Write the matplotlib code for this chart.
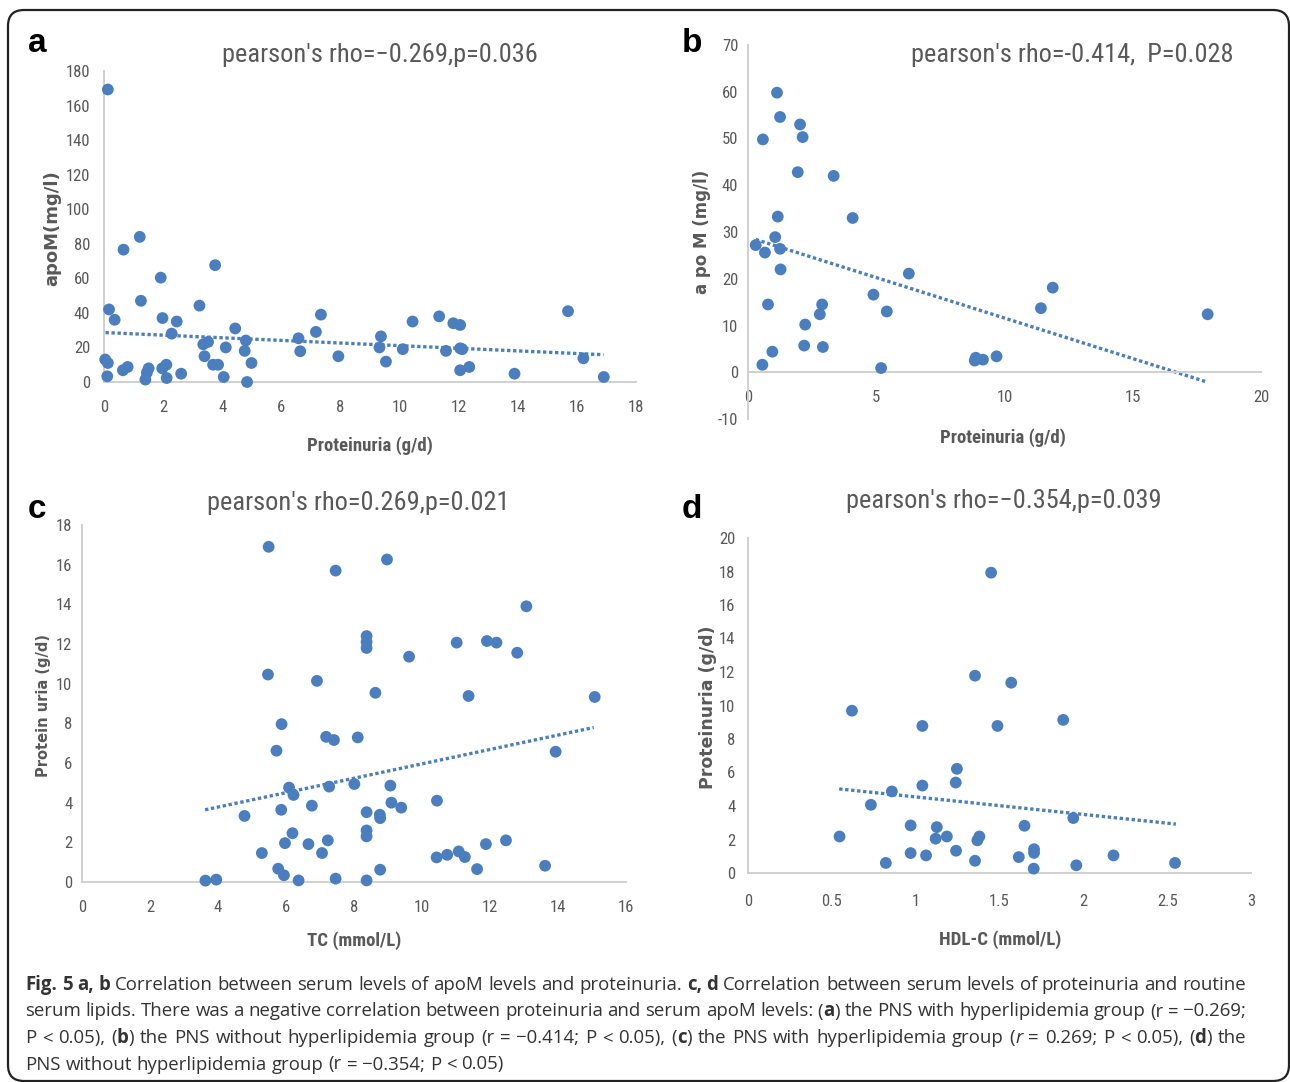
import matplotlib
matplotlib.use('Agg')
import matplotlib.pyplot as plt
from matplotlib import font_manager
from matplotlib.patches import FancyBboxPatch
from matplotlib.transforms import IdentityTransform

W, H = 1290, 1082

# ---- panel a: apoM vs proteinuria (with hyperlipidemia)
a_x = [0.13, 0.17, 0.36, 0.04, 0.13, 0.11, 0.66, 1.21, 1.25, 0.64, 0.80, 1.40, 1.45, 1.51,
       1.92, 1.98, 1.97, 2.11, 2.12, 2.29, 2.46, 2.61, 3.23, 3.36, 3.52, 3.40, 3.69, 3.86,
       3.76, 4.05, 4.12, 4.44, 4.80, 4.76, 4.84, 4.99, 6.58, 6.64, 7.17, 7.34, 7.93, 9.37,
       9.32, 9.54, 10.11, 10.44, 11.34, 11.57, 11.82, 12.05, 12.05, 12.12, 12.05, 12.36,
       13.89, 15.70, 16.22, 16.91]
a_y = [169.3, 42, 36, 13, 11, 3.3, 76.6, 84, 47, 6.8, 8.7, 1.4, 5.4, 7.9,
       60.4, 37, 7.9, 10, 2.3, 28, 35, 4.8, 44.2, 21.8, 23.2, 14.9, 10, 10,
       67.6, 2.9, 20, 31, 24, 18, 0, 11, 25.3, 17.8, 29, 39, 14.9, 26.4,
       20, 11.8, 19, 35, 38, 18, 34, 33, 19.5, 19, 6.8, 8.7,
       4.8, 41, 13.7, 2.9]
a_fit_x = [0.05, 16.9]
a_fit_y = [28.6, 15.8]

# ---- panel b: apoM vs proteinuria (without hyperlipidemia)
b_x = [1.13, 1.25, 0.58, 2.03, 2.13, 1.94, 3.34, 1.16, 4.08, 1.06, 0.30, 0.66, 1.25, 1.27,
       6.27, 4.89, 11.88, 0.78, 2.89, 2.80, 5.41, 11.42, 17.92, 2.23, 2.19, 2.92, 0.95,
       0.56, 5.19, 8.84, 8.88, 9.16, 9.69]
b_y = [59.8, 54.6, 49.8, 53, 50.3, 42.8, 42, 33.3, 33, 28.9, 27.2, 25.6, 26.4, 22,
       21.1, 16.6, 18.1, 14.5, 14.5, 12.4, 13.0, 13.7, 12.4, 10.2, 5.7, 5.4, 4.4,
       1.6, 0.9, 2.5, 3.1, 2.7, 3.4]
b_fit_x = [0.3, 17.9]
b_fit_y = [28.4, -2.1]

# ---- panel c: proteinuria vs TC
c_x = [5.49, 8.97, 7.46, 13.07, 8.37, 8.37, 8.37, 11.02, 11.91, 12.19, 12.80, 9.62, 5.47,
       6.91, 8.63, 11.37, 15.08, 5.87, 7.18, 7.41, 8.11, 5.72, 13.93, 6.09, 6.22, 7.27,
       8.01, 9.07, 10.44, 9.10, 9.39, 6.76, 5.86, 4.78, 8.37, 8.76, 8.77, 6.19, 8.37,
       8.37, 7.23, 12.47, 5.97, 6.66, 11.88, 5.29, 7.06, 11.08, 10.74, 11.26, 10.43,
       13.62, 11.62, 8.77, 5.77, 5.94, 3.63, 3.95, 6.37, 7.46, 8.37]
c_y = [16.9, 16.26, 15.7, 13.9, 12.4, 12.1, 11.8, 12.07, 12.15, 12.07, 11.56, 11.36, 10.46,
       10.14, 9.54, 9.38, 9.33, 7.96, 7.32, 7.16, 7.29, 6.62, 6.57, 4.76, 4.39, 4.81,
       4.94, 4.86, 4.1, 4.0, 3.75, 3.85, 3.64, 3.33, 3.52, 3.39, 3.22, 2.46, 2.6,
       2.3, 2.1, 2.1, 1.96, 1.91, 1.91, 1.46, 1.46, 1.54, 1.37, 1.26, 1.24,
       0.82, 0.65, 0.62, 0.67, 0.34, 0.07, 0.12, 0.08, 0.17, 0.08]
c_fit_x = [3.62, 15.05]
c_fit_y = [3.64, 7.79]

# ---- panel d: proteinuria vs HDL-C
d_x = [1.45, 1.354, 1.57, 0.62, 1.88, 1.04, 1.488, 1.246, 1.239, 1.04, 0.858, 0.733, 1.94,
       0.97, 1.126, 1.649, 0.546, 1.119, 1.186, 1.38, 1.368, 0.97, 1.241, 1.062, 1.706,
       1.706, 2.18, 1.615, 0.822, 1.354, 1.958, 2.547, 1.704]
d_y = [17.93, 11.78, 11.36, 9.69, 9.14, 8.78, 8.78, 6.22, 5.4, 5.22, 4.87, 4.07, 3.28,
       2.84, 2.74, 2.82, 2.18, 2.05, 2.18, 2.18, 1.95, 1.19, 1.33, 1.05, 1.42,
       1.2, 1.05, 0.95, 0.6, 0.73, 0.46, 0.6, 0.26]
d_fit_x = [0.544, 2.552]
d_fit_y = [5.02, 2.92]

titles = ["pearson's rho=\u22120.269,p=0.036", "pearson's rho=-0.414,  P=0.028",
          "pearson's rho=0.269,p=0.021", "pearson's rho=\u22120.354,p=0.039"]
xlabels = ["Proteinuria (g/d)", "Proteinuria (g/d)", "TC (mmol/L)", "HDL-C (mmol/L)"]
ylabels = ["apoM(mg/l)", "a po M (mg/l)", "Protein uria (g/d)", "Proteinuria (g/d)"]

caption = [
    [("Fig. 5 a, b", 'b'), (" Correlation between serum levels of apoM levels and proteinuria. ", 'n'),
     ("c, d", 'b'), (" Correlation between serum levels of proteinuria and routine", 'n')],
    [("serum lipids. There was a negative correlation between proteinuria and serum apoM levels: (", 'n'),
     ("a", 'b'), (") the PNS with hyperlipidemia group (r = \u22120.269;", 'n')],
    [("P < 0.05), (", 'n'), ("b", 'b'), (") the PNS without hyperlipidemia group (r = \u22120.414; P < 0.05), (", 'n'),
     ("c", 'b'), (") the PNS with hyperlipidemia group (", 'n'), ("r", 'i'), (" = 0.269; P < 0.05), (", 'n'),
     ("d", 'b'), (") the", 'n')],
    [("PNS without hyperlipidemia group (r = \u22120.354; P < 0.05)", 'n')],
]

# 字体选择
names = {f.name for f in font_manager.fontManager.ttflist}


def pick(*cands):
    for c in cands:
        if c in names:
            return c
    return 'DejaVu Sans'


narrow = pick('Liberation Sans Narrow', 'Roboto Condensed', 'Open Sans Condensed', 'Liberation Sans')
arial = pick('Liberation Sans', 'DejaVu Sans')
cap_font = pick('Open Sans', 'Noto Sans', 'DejaVu Sans')

BLUE = '#4a7ebf'
GREY = '#595959'
AXIS = '#d0d0d0'


def px_ax(left, top, right, bottom):
    return [left / W, 1 - bottom / H, (right - left) / W, (bottom - top) / H]


fig = plt.figure(figsize=(W / 100, H / 100), dpi=100)
fig.patch.set_facecolor('white')

panels = [
    dict(box=(104, 71, 636, 382), x=a_x, y=a_y, fx=a_fit_x, fy=a_fit_y,
         xlim=(0, 18), xt=range(0, 19, 2), ylim=(0, 180), yt=range(0, 181, 20),
         xl=(0.5, -0.203), yl=(-0.098, 0.495), ylsize=13, xpad=13, ypad=10),
    dict(box=(748, 45, 1261, 419), x=b_x, y=b_y, fx=b_fit_x, fy=b_fit_y,
         xlim=(0, 20), xt=range(0, 21, 5), ylim=(-10, 70), yt=range(-10, 71, 10),
         xl=(0.497, -0.051), yl=(-0.090, 0.5), ylsize=12, xpad=13, ypad=7),
    dict(box=(82, 525, 626, 882), x=c_x, y=c_y, fx=c_fit_x, fy=c_fit_y,
         xlim=(0, 16), xt=range(0, 17, 2), ylim=(0, 18), yt=range(0, 19, 2),
         xl=(0.5, -0.163), yl=(-0.070, 0.493), ylsize=10.5, xpad=13, ypad=7),
    dict(box=(748, 538, 1251, 873), x=d_x, y=d_y, fx=d_fit_x, fy=d_fit_y,
         xlim=(0, 3), xt=[0, 0.5, 1, 1.5, 2, 2.5, 3], ylim=(0, 20), yt=range(0, 21, 2),
         xl=(0.501, -0.200), yl=(-0.080, 0.495), ylsize=12.5, xpad=15, ypad=9),
]

for i, p in enumerate(panels):
    ax = fig.add_axes(px_ax(*p['box']))
    ax.set_facecolor('none')
    ax.plot(p['fx'], p['fy'], linestyle=(0, (1, 0.8)), color=BLUE, lw=2.4, zorder=2, clip_on=False)
    ax.scatter(p['x'], p['y'], s=72, color=BLUE, edgecolors='none', zorder=3, clip_on=False)
    ax.set_xlim(*p['xlim'])
    ax.set_ylim(*p['ylim'])
    ax.set_xticks(list(p['xt']))
    ax.set_yticks(list(p['yt']))
    ax.set_xticklabels(['{:g}'.format(v) for v in p['xt']])
    ax.set_yticklabels(['{:g}'.format(v) for v in p['yt']])
    for s in ['top', 'right']:
        ax.spines[s].set_visible(False)
    for s in ['left', 'bottom']:
        ax.spines[s].set_color(AXIS)
        ax.spines[s].set_linewidth(1.4)
    if p['ylim'][0] < 0:
        ax.spines['bottom'].set_position(('data', 0))
    ax.tick_params(length=0, labelsize=12, labelcolor=GREY)
    ax.tick_params(axis='x', pad=p['xpad'])
    ax.tick_params(axis='y', pad=p['ypad'])
    for t in ax.get_xticklabels() + ax.get_yticklabels():
        t.set_family(narrow)
    ax.set_xlabel(xlabels[i], family=narrow, fontweight='bold', fontsize=13.5, color=GREY, va='center')
    ax.xaxis.set_label_coords(*p['xl'])
    ax.set_ylabel(ylabels[i], family='DejaVu Sans', fontweight='bold', fontsize=p['ylsize'],
                  color=GREY, va='center')
    ax.yaxis.set_label_coords(*p['yl'])

# 标题和面板字母
title_pos = [(380, 62), (1072, 62), (358, 510), (1004, 508)]
for t, (x, y) in zip(titles, title_pos):
    fig.text(x / W, 1 - y / H, t, ha='center', va='baseline', fontsize=19, family=narrow, color=GREY)

for lab, (x, y) in zip('abcd', [(28, 52), (682, 52), (28, 518), (682, 518)]):
    fig.text(x / W, 1 - y / H, lab, ha='left', va='baseline', fontsize=24, fontweight='bold',
             family=arial, color='black')

# 外框
fig.add_artist(FancyBboxPatch((8, 1), 1281, 1071, boxstyle='round,pad=0,rounding_size=16',
                              transform=IdentityTransform(), fill=False, ec='#222222', lw=1.6))

# 图注（两端对齐）
renderer = fig.canvas.get_renderer()
styles = {'n': dict(fontweight='normal', fontstyle='normal'),
          'b': dict(fontweight='bold', fontstyle='normal'),
          'i': dict(fontweight='normal', fontstyle='italic')}
CAP_SIZE = 13.4


def measure(txt, st):
    t = fig.text(0, 0, txt, fontsize=CAP_SIZE, family=cap_font, transform=IdentityTransform(), **styles[st])
    w = t.get_window_extent(renderer).width
    t.remove()
    return w


space_w = measure('a a', 'n') - measure('aa', 'n')
x0, x1 = 25, 1246
base_y = [990, 1016.5, 1043, 1069.5]
for li, segs in enumerate(caption):
    words = [[]]
    for txt, st in segs:
        pieces = txt.split(' ')
        for k, piece in enumerate(pieces):
            if k > 0:
                words.append([])
            if piece:
                words[-1].append((piece, st))
    words = [w for w in words if w]
    widths = [[measure(t, st) for t, st in w] for w in words]
    total = sum(sum(ws) for ws in widths)
    if li < len(caption) - 1:
        gap = (x1 - x0 - total) / (len(words) - 1)
    else:
        gap = space_w
    x = x0
    y = H - base_y[li]
    for w, ws in zip(words, widths):
        for (t, st), wd in zip(w, ws):
            fig.text(x, y, t, fontsize=CAP_SIZE, family=cap_font, color='#333333', va='baseline',
                     transform=IdentityTransform(), **styles[st])
            x += wd
        x += gap

fig.savefig('out.png', dpi=100, facecolor='white')
